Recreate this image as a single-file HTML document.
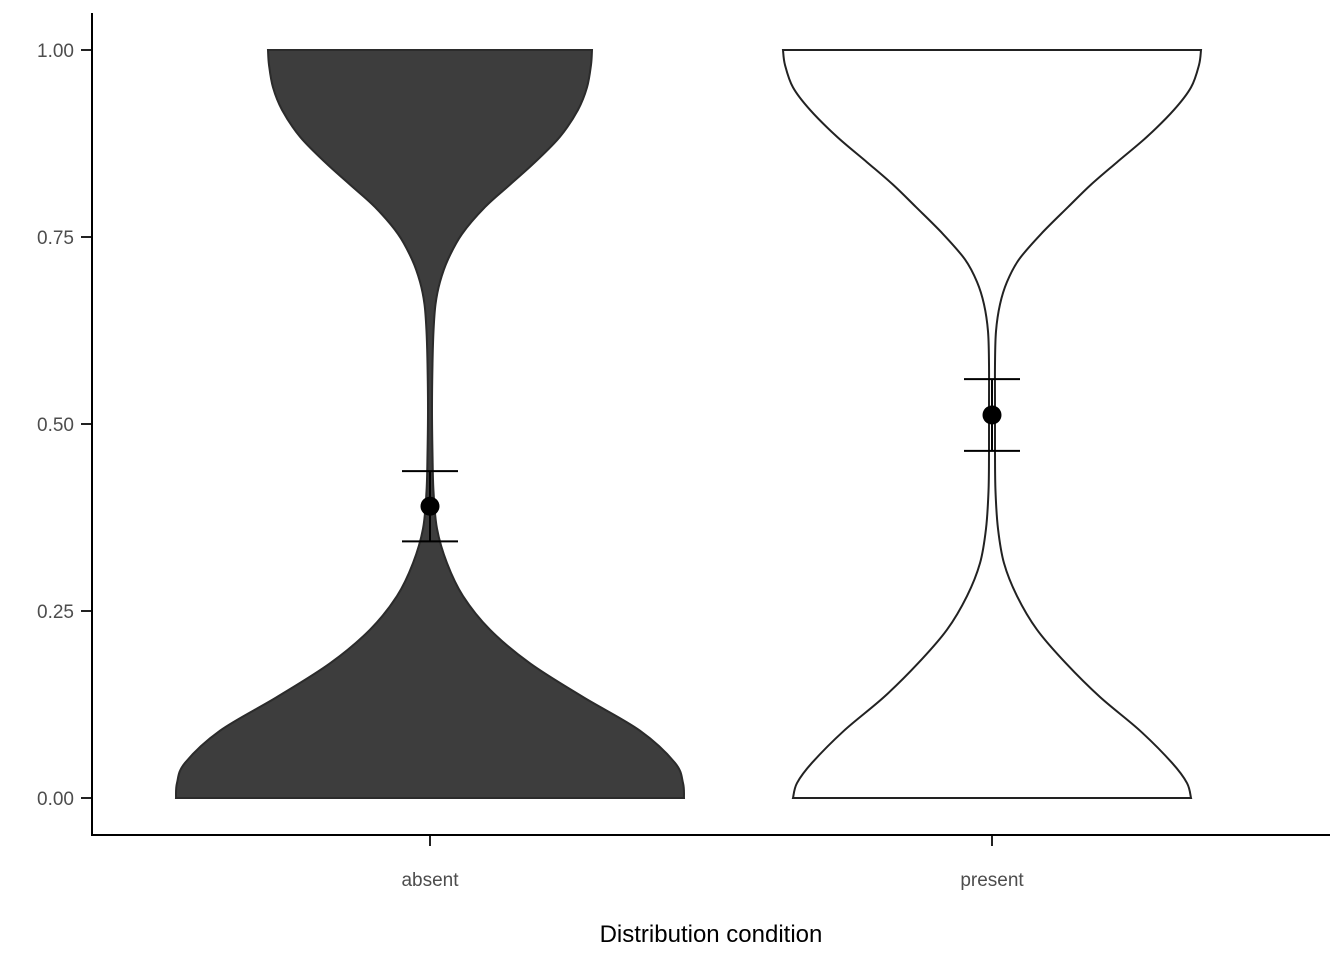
<!DOCTYPE html>
<html><head><meta charset="utf-8"><style>
body{margin:0;background:#fff}
svg text{font-family:"Liberation Sans",Arial,sans-serif}
</style></head><body>
<svg id="chart" width="1344" height="960"></svg>
<script>
const categories=["absent","present"];
const levels=[0,0.02,0.047,0.09,0.135,0.18,0.225,0.27,0.314,0.36,0.41,0.46,0.52,0.58,0.624,0.66,0.69,0.72,0.754,0.79,0.82,0.85,0.884,0.92,0.95,0.98,1];
const absentWidths=[254,253,245,210,153,100,60,33,17,7,3.5,2.5,2,2.5,3.5,5.5,10,18,32,55,80,105,130,148,157,161,162];
const presentWidths=[199,195,180,148,108,74,45,25,12,6,3.5,3,3,3,4,8,15,27,49,76,99,125,155,182,199,207,209];
const means=[0.39,0.512];
const lows=[0.343,0.464];
const highs=[0.437,0.56];
const yTicks=[0,0.25,0.5,0.75,1];
const yTickLabels=["0.00","0.25","0.50","0.75","1.00"];
const NS="http://www.w3.org/2000/svg";
const svg=document.getElementById('chart');
const y=v=>798-v*748;
const x=i=>430+i*562;
function mk(t,a,p){const e=document.createElementNS(NS,t);for(const k in a)e.setAttribute(k,a[k]);(p||svg).appendChild(e);return e;}
function smooth(pts){let d="M"+pts[0][0]+","+pts[0][1];for(let i=0;i<pts.length-1;i++){const p0=pts[Math.max(0,i-1)],p1=pts[i],p2=pts[i+1],p3=pts[Math.min(pts.length-1,i+2)];const c1=[p1[0]+(p2[0]-p0[0])/6,p1[1]+(p2[1]-p0[1])/6],c2=[p2[0]-(p3[0]-p1[0])/6,p2[1]-(p3[1]-p1[1])/6];d+=" C"+c1[0]+","+c1[1]+" "+c2[0]+","+c2[1]+" "+p2[0]+","+p2[1];}return d;}
function violin(i,w){const cx=x(i);const right=levels.map((v,k)=>[cx+w[k],y(v)]);const left=levels.map((v,k)=>[cx-w[k],y(v)]).reverse();
let d=smooth(right);d+=" L"+left[0][0]+","+left[0][1]+smooth(left).replace(/^M[^C]*/," ")+" Z";return d;}
const vA=mk('path',{d:violin(0,absentWidths),fill:'#3d3d3d',stroke:'#2b2b2b','stroke-width':2});


const vP=mk('path',{d:violin(1,presentWidths),fill:'#fff',stroke:'#222','stroke-width':2});


categories.forEach((c,i)=>{const g=mk('g',{});


const cx=x(i);
mk('line',{x1:cx,x2:cx,y1:y(lows[i]),y2:y(highs[i]),stroke:'#000','stroke-width':2},g);
mk('line',{x1:cx-28,x2:cx+28,y1:y(lows[i]),y2:y(lows[i]),stroke:'#000','stroke-width':2},g);
mk('line',{x1:cx-28,x2:cx+28,y1:y(highs[i]),y2:y(highs[i]),stroke:'#000','stroke-width':2},g);
mk('circle',{cx:cx,cy:y(means[i]),r:9.5,fill:'#000'},g);
const t=mk('line',{x1:cx,x2:cx,y1:835,y2:846,stroke:'#222','stroke-width':2});


const l=mk('text',{x:cx,y:886,'text-anchor':'middle','font-size':19,fill:'#4d4d4d'});l.textContent=c;


});
yTicks.forEach((v,k)=>{const t=mk('line',{x1:81,x2:92,y1:y(v),y2:y(v),stroke:'#222','stroke-width':2});


const l=mk('text',{x:74,y:y(v)+7,'text-anchor':'end','font-size':19,fill:'#4d4d4d'});l.textContent=yTickLabels[k];

});
const ya=mk('line',{x1:92,x2:92,y1:13,y2:836,stroke:'#000','stroke-width':2});


const xa=mk('line',{x1:91,x2:1330,y1:835,y2:835,stroke:'#000','stroke-width':2});


const xt=mk('text',{x:711,y:942,'text-anchor':'middle','font-size':24,fill:'#000'});xt.textContent="Distribution condition";


</script>
</body></html>
